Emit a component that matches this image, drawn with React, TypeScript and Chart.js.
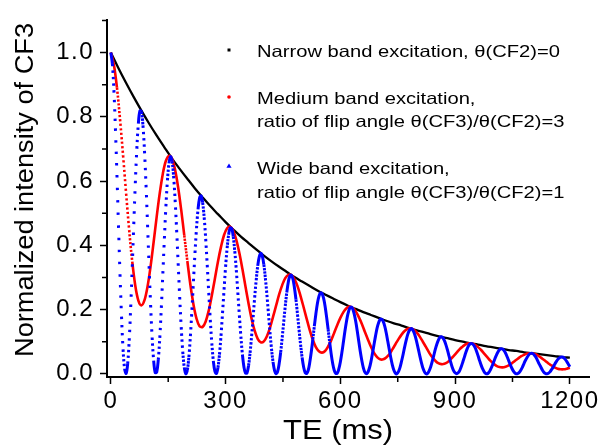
import { useEffect, useRef } from "react";
import { Chart, registerables } from "chart.js";

Chart.register(...registerables);

// TE sampling grids (ms between successive readings)
const NARROW_TE_STEP = 20;
const MEDIUM_TE_STEP = 8;
const WIDE_TE_STEP = 4;

// Narrow band excitation, θ(CF2)=0  (TE = 0, 20, 40, ... 1200 ms)
const NARROW = [
  1.000, 0.951, 0.905, 0.861, 0.819, 0.779, 0.741, 0.705, 0.670, 0.638,
  0.607, 0.577, 0.549, 0.522, 0.497, 0.472, 0.449, 0.427, 0.407, 0.387,
  0.368, 0.350, 0.333, 0.317, 0.301, 0.287, 0.273, 0.259, 0.247, 0.235,
  0.223, 0.212, 0.202, 0.192, 0.183, 0.174, 0.165, 0.157, 0.150, 0.142,
  0.135, 0.129, 0.122, 0.116, 0.111, 0.105, 0.100, 0.095, 0.091, 0.086,
  0.082, 0.078, 0.074, 0.071, 0.067, 0.064, 0.061, 0.058, 0.055, 0.052, 0.050,
];

// Medium band excitation, ratio 3  (TE = 0, 8, 16, ... 1200 ms)
const MEDIUM = [
  1.000, 0.962, 0.891, 0.793, 0.680, 0.561, 0.447, 0.349, 0.274, 0.228,
  0.213, 0.229, 0.272, 0.335, 0.411, 0.490, 0.563, 0.623, 0.663, 0.678,
  0.669, 0.635, 0.580, 0.510, 0.431, 0.351, 0.277, 0.216, 0.172, 0.148,
  0.146, 0.163, 0.197, 0.244, 0.296, 0.349, 0.395, 0.432, 0.453, 0.458,
  0.445, 0.417, 0.376, 0.326, 0.272, 0.219, 0.171, 0.134, 0.109, 0.098,
  0.101, 0.117, 0.143, 0.177, 0.212, 0.247, 0.276, 0.298, 0.308, 0.307,
  0.295, 0.273, 0.242, 0.207, 0.171, 0.136, 0.106, 0.083, 0.070, 0.066,
  0.071, 0.085, 0.104, 0.128, 0.152, 0.174, 0.192, 0.204, 0.209, 0.205,
  0.195, 0.177, 0.156, 0.131, 0.107, 0.084, 0.065, 0.052, 0.045, 0.045,
  0.051, 0.061, 0.076, 0.092, 0.108, 0.122, 0.133, 0.140, 0.141, 0.137,
  0.128, 0.115, 0.099, 0.083, 0.066, 0.052, 0.041, 0.033, 0.030, 0.031,
  0.036, 0.045, 0.055, 0.066, 0.077, 0.085, 0.092, 0.095, 0.094, 0.090,
  0.083, 0.074, 0.063, 0.052, 0.041, 0.032, 0.025, 0.021, 0.020, 0.022,
  0.026, 0.032, 0.040, 0.047, 0.054, 0.059, 0.063, 0.064, 0.063, 0.060,
  0.054, 0.047, 0.040, 0.032, 0.026, 0.020, 0.016, 0.014, 0.014, 0.016, 0.019,
];

// Wide band excitation, ratio 1  (TE = 0, 4, 8, ... 1200 ms)
const WIDE = [
  1.000, 0.965, 0.883, 0.764, 0.619, 0.462, 0.310, 0.178, 0.076, 0.016,
  0.001, 0.031, 0.103, 0.208, 0.333, 0.466, 0.593, 0.701, 0.779, 0.818,
  0.816, 0.773, 0.694, 0.588, 0.464, 0.335, 0.214, 0.113, 0.041, 0.004,
  0.005, 0.043, 0.112, 0.205, 0.312, 0.421, 0.521, 0.602, 0.655, 0.676,
  0.662, 0.616, 0.542, 0.448, 0.344, 0.239, 0.145, 0.069, 0.020, 0.000,
  0.012, 0.052, 0.117, 0.199, 0.288, 0.376, 0.453, 0.512, 0.547, 0.554,
  0.533, 0.487, 0.420, 0.339, 0.252, 0.168, 0.095, 0.040, 0.008, 0.001,
  0.019, 0.060, 0.118, 0.189, 0.262, 0.333, 0.391, 0.433, 0.454, 0.452,
  0.427, 0.382, 0.323, 0.253, 0.182, 0.116, 0.060, 0.021, 0.002, 0.003,
  0.025, 0.065, 0.117, 0.176, 0.237, 0.291, 0.336, 0.364, 0.375, 0.366,
  0.340, 0.298, 0.246, 0.188, 0.130, 0.078, 0.037, 0.010, 0.000, 0.007,
  0.031, 0.067, 0.113, 0.162, 0.211, 0.253, 0.286, 0.304, 0.307, 0.295,
  0.268, 0.231, 0.185, 0.137, 0.091, 0.051, 0.021, 0.004, 0.001, 0.011,
  0.035, 0.068, 0.107, 0.148, 0.186, 0.219, 0.241, 0.252, 0.250, 0.236,
  0.211, 0.177, 0.139, 0.099, 0.062, 0.032, 0.011, 0.001, 0.002, 0.015,
  0.037, 0.066, 0.099, 0.133, 0.163, 0.187, 0.203, 0.208, 0.203, 0.187,
  0.164, 0.135, 0.102, 0.070, 0.042, 0.019, 0.005, 0.000, 0.005, 0.018,
  0.038, 0.064, 0.091, 0.118, 0.142, 0.159, 0.169, 0.170, 0.163, 0.148,
  0.127, 0.101, 0.075, 0.049, 0.027, 0.011, 0.002, 0.000, 0.007, 0.020,
  0.039, 0.060, 0.083, 0.104, 0.122, 0.134, 0.140, 0.139, 0.130, 0.116,
  0.097, 0.076, 0.054, 0.034, 0.017, 0.006, 0.000, 0.001, 0.009, 0.021,
  0.038, 0.056, 0.075, 0.091, 0.104, 0.113, 0.115, 0.112, 0.103, 0.090,
  0.074, 0.056, 0.038, 0.022, 0.010, 0.003, 0.000, 0.003, 0.010, 0.022,
  0.036, 0.051, 0.066, 0.079, 0.089, 0.094, 0.094, 0.090, 0.082, 0.070,
  0.056, 0.041, 0.027, 0.015, 0.006, 0.001, 0.000, 0.004, 0.012, 0.022,
  0.034, 0.047, 0.058, 0.068, 0.075, 0.078, 0.077, 0.072, 0.064, 0.053,
  0.041, 0.029, 0.018, 0.009, 0.003, 0.000, 0.001, 0.005, 0.012, 0.021,
  0.032, 0.042, 0.051, 0.058, 0.063, 0.064, 0.062, 0.057, 0.050, 0.040,
  0.030, 0.021, 0.012, 0.005, 0.001, 0.000, 0.002, 0.006, 0.013, 0.020,
  0.029, 0.037, 0.044, 0.049, 0.052, 0.052, 0.050, 0.045, 0.038, 0.030, 0.022,
];

const X_LABEL_STEP = 300;
const Y_LABEL_STEP = 0.2;

const X_TITLE = "TE (ms)";
const Y_TITLE = "Normalized intensity of CF3";
const NARROW_LABEL = ["Narrow band excitation, θ(CF2)=0"];
const MEDIUM_LABEL = ["Medium band excitation,", "ratio of flip angle θ(CF3)/θ(CF2)=3"];
const WIDE_LABEL = ["Wide band excitation,", "ratio of flip angle θ(CF3)/θ(CF2)=1"];

const FONT = "Arial, 'Liberation Sans', sans-serif";

const toPoints = (values: number[], step: number) =>
  values.map((y, i) => ({ x: i * step, y }));

const isMajorX = (v: number) => Math.abs(v / X_LABEL_STEP - Math.round(v / X_LABEL_STEP)) < 1e-6;
const isMajorY = (v: number) => Math.abs(v / Y_LABEL_STEP - Math.round(v / Y_LABEL_STEP)) < 1e-6;

// dotted look where the 1 ms-spaced markers of the original separate
const dotted = (msPerSegment: number, dot: number, solidBelow: number) => (ctx: any) => {
  const { p0, p1 } = ctx;
  const len = Math.hypot(p1.x - p0.x, p1.y - p0.y);
  const spacing = len / msPerSegment;
  if (spacing < solidBelow) return [];
  return [dot, spacing - dot];
};

const annotate = {
  id: "annotate",
  beforeDraw(chart: any) {
    (chart.ctx as any).letterSpacing = "1.5px";
  },
  afterDraw(chart: any) {
    const ctx = chart.ctx as CanvasRenderingContext2D;
    ctx.save();
    (ctx as any).letterSpacing = "0px";
    ctx.fillStyle = "#000";
    ctx.strokeStyle = "#000";

    // minor ticks
    const xs = chart.scales.x;
    const ys = chart.scales.y;
    const area = chart.chartArea;
    ctx.lineWidth = 1.5;
    ctx.beginPath();
    xs.ticks.forEach((t: any) => {
      if (!isMajorX(t.value)) {
        const px = xs.getPixelForValue(t.value);
        ctx.moveTo(px, area.bottom);
        ctx.lineTo(px, area.bottom + 5);
      }
    });
    ys.ticks.forEach((t: any) => {
      if (!isMajorY(t.value)) {
        const py = ys.getPixelForValue(t.value);
        ctx.moveTo(area.left - 5, py);
        ctx.lineTo(area.left, py);
      }
    });
    ctx.stroke();

    // axis titles
    ctx.textAlign = "center";
    ctx.textBaseline = "alphabetic";
    ctx.font = `25px ${FONT}`;
    const yw = ctx.measureText(Y_TITLE).width;
    ctx.save();
    ctx.translate(33, 190);
    ctx.rotate(-Math.PI / 2);
    ctx.scale(334 / yw, 1);
    ctx.fillText(Y_TITLE, 0, 0);
    ctx.restore();

    ctx.font = `28px ${FONT}`;
    const xw = ctx.measureText(X_TITLE).width;
    ctx.save();
    ctx.translate(338, 439);
    ctx.scale(110 / xw, 1);
    ctx.fillText(X_TITLE, 0, 0);
    ctx.restore();

    // legend
    ctx.font = `16.5px ${FONT}`;
    ctx.textAlign = "left";
    const sx = 303 / ctx.measureText(NARROW_LABEL[0]).width;
    const entries = [
      { lines: NARROW_LABEL, color: "#000000", marker: "square", my: 50, base: [56.7] },
      { lines: MEDIUM_LABEL, color: "#ff0000", marker: "circle", my: 97, base: [104, 126.7] },
      { lines: WIDE_LABEL, color: "#0000ff", marker: "triangle", my: 166, base: [174, 198.3] },
    ];
    entries.forEach((e) => {
      ctx.fillStyle = e.color;
      const mx = 229;
      ctx.beginPath();
      if (e.marker === "square") {
        ctx.rect(mx - 1.5, e.my - 1.5, 3, 3);
      } else if (e.marker === "circle") {
        ctx.arc(mx, e.my, 1.8, 0, Math.PI * 2);
      } else {
        ctx.moveTo(mx, e.my - 2.5);
        ctx.lineTo(mx + 2.6, e.my + 1.8);
        ctx.lineTo(mx - 2.6, e.my + 1.8);
        ctx.closePath();
      }
      ctx.fill();
      ctx.fillStyle = "#000";
      e.lines.forEach((line, i) => {
        ctx.save();
        ctx.translate(257, e.base[i]);
        ctx.scale(sx, 1);
        ctx.fillText(line, 0, 0);
        ctx.restore();
      });
    });
    ctx.restore();
  },
};

export default function App() {
  const ref = useRef<HTMLCanvasElement>(null);

  useEffect(() => {
    const canvas = ref.current;
    if (!canvas) return;
    const chart = new Chart(canvas, {
      type: "line",
      data: {
        datasets: [
          {
            label: WIDE_LABEL.join(" "),
            data: toPoints(WIDE, WIDE_TE_STEP),
            borderColor: "#0000ff",
            borderWidth: 3,
            pointRadius: 0,
            tension: 0.35,
            order: 0,
            segment: { borderDash: dotted(WIDE_TE_STEP, 2.4, 3.2) },
          } as any,
          {
            label: MEDIUM_LABEL.join(" "),
            data: toPoints(MEDIUM, MEDIUM_TE_STEP),
            borderColor: "#ff0000",
            borderWidth: 2.6,
            pointRadius: 0,
            tension: 0.35,
            order: 1,
            segment: { borderDash: dotted(MEDIUM_TE_STEP, 2.2, 3.2) },
          } as any,
          {
            label: NARROW_LABEL[0],
            data: toPoints(NARROW, NARROW_TE_STEP),
            borderColor: "#000000",
            borderWidth: 2.3,
            pointRadius: 0,
            tension: 0.4,
            order: 2,
          } as any,
        ],
      },
      options: {
        animation: false,
        responsive: false,
        devicePixelRatio: 1,
        events: [],
        layout: { padding: { left: 0, right: 16, top: 13, bottom: 0 } },
        plugins: { legend: { display: false }, tooltip: { enabled: false } },
        scales: {
          x: {
            type: "linear",
            min: -10,
            max: 1250,
            afterFit: (s: any) => {
              s.height = 69;
            },
            border: { display: true, color: "#000", width: 2 },
            grid: {
              drawOnChartArea: false,
              drawTicks: true,
              tickLength: 7,
              tickWidth: 1.5,
              tickColor: (c: any) => (c.tick && isMajorX(c.tick.value) ? "#000" : "rgba(0,0,0,0)"),
            },
            ticks: {
              stepSize: 150,
              includeBounds: false,
              autoSkip: false,
              maxRotation: 0,
              padding: 3,
              color: "#000",
              font: { family: FONT, size: 24 },
              callback: (v: any) => (isMajorX(Number(v)) ? String(Math.round(Number(v))) : ""),
            },
          },
          y: {
            type: "linear",
            min: -0.01,
            max: 1.1,
            afterFit: (s: any) => {
              s.width = 107;
            },
            border: { display: true, color: "#000", width: 2 },
            grid: {
              drawOnChartArea: false,
              drawTicks: true,
              tickLength: 7,
              tickWidth: 1.5,
              tickColor: (c: any) => (c.tick && isMajorY(c.tick.value) ? "#000" : "rgba(0,0,0,0)"),
            },
            ticks: {
              stepSize: 0.1,
              includeBounds: false,
              autoSkip: false,
              padding: 6,
              color: "#000",
              font: { family: FONT, size: 24 },
              callback: (v: any) => (isMajorY(Number(v)) ? Number(v).toFixed(1) : ""),
            },
          },
        },
      } as any,
      plugins: [annotate as any],
    });
    return () => chart.destroy();
  }, []);

  return (
    <div style={{ position: "absolute", left: 0, top: 0, width: 605, height: 446, background: "#fff" }}>
      <canvas ref={ref} width={605} height={446} style={{ display: "block", width: 605, height: 446 }} />
    </div>
  );
}
